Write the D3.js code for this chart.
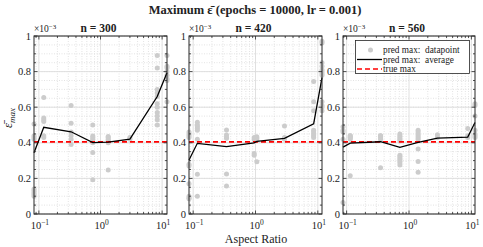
<!DOCTYPE html>
<html><head><meta charset="utf-8">
<script src="https://cdn.jsdelivr.net/npm/d3@7"></script>
<style>
html,body{margin:0;padding:0;background:#fff;}
svg text{font-family:"Liberation Serif","DejaVu Serif",serif;fill:#222;}
</style></head>
<body><svg id="c" width="483" height="247"></svg>
<script>
// ---- data (values in units of 1e-3) ----
const panelTitles = ["n = 300", "n = 420", "n = 560"];
const aspect300 = [1/12, 6/50, 10/30, 15/20, 20/15, 30/10, 50/6, 60/5];
const aspect420 = [6/70, 7/60, 12/35, 20/21, 21/20, 35/12, 60/7, 70/6];
const aspect560 = [7/80, 8/70, 14/40, 20/28, 28/20, 40/14, 70/8, 80/7];
const avg300 = [0.344, 0.487, 0.462, 0.401, 0.404, 0.421, 0.66, 0.794];
const avg420 = [0.303, 0.397, 0.378, 0.400, 0.408, 0.425, 0.507, 0.766];
const avg560 = [0.376, 0.398, 0.406, 0.374, 0.402, 0.426, 0.432, 0.514];
const pts300 = [
  [0.505, 0.44, 0.43, 0.42, 0.14, 0.13, 0.12, 0.11, 0.10],
  [0.655, 0.54, 0.53, 0.52, 0.44, 0.43],
  [0.61, 0.51, 0.46, 0.44, 0.42, 0.39],
  [0.50, 0.438, 0.43, 0.42, 0.40, 0.346, 0.193],
  [0.435, 0.43, 0.42, 0.41, 0.40, 0.247],
  [0.43, 0.42],
  [0.89, 0.82, 0.70, 0.68, 0.66, 0.62, 0.60, 0.57, 0.55, 0.53, 0.50],
  [0.89, 0.83, 0.82, 0.80, 0.78, 0.76, 0.75, 0.63]
];
const pts420 = [
  [0.46, 0.45, 0.44, 0.43, 0.28, 0.27, 0.17, 0.10, 0.09, 0.085],
  [0.515, 0.50, 0.49, 0.48, 0.47, 0.42, 0.223, 0.10],
  [0.472, 0.444, 0.43, 0.425, 0.225, 0.157],
  [0.43, 0.42, 0.34, 0.33],
  [0.434, 0.425, 0.415, 0.294],
  [0.494, 0.43, 0.42],
  [0.745, 0.63, 0.58, 0.47, 0.46, 0.45, 0.44, 0.43],
  [0.97, 0.96, 0.85, 0.83, 0.81, 0.80, 0.79, 0.78, 0.63, 0.61, 0.60, 0.58]
];
const pts560 = [
  [0.49, 0.47, 0.46, 0.42, 0.065],
  [0.44, 0.44, 0.43, 0.43, 0.42, 0.215],
  [0.44, 0.44, 0.43, 0.42, 0.26],
  [0.45, 0.44, 0.43, 0.42, 0.41, 0.33, 0.32, 0.31, 0.30, 0.29, 0.275],
  [0.47, 0.46, 0.45, 0.44, 0.43, 0.42, 0.365, 0.295, 0.235],
  [0.445, 0.43],
  [0.48, 0.44, 0.43],
  [0.62, 0.61, 0.55, 0.47, 0.45, 0.44, 0.43]
];
const trueMax = 0.405;
const yTicks = [0, 0.2, 0.4, 0.6, 0.8, 1];
const yTickLabels = ["0", "0.2", "0.4", "0.6", "0.8", "1"];
const xTickExps = ["\u22121", "0", "1"];
const legendLabels = ["pred max:  datapoint", "pred max:  average", "true max"];

const aspects = [aspect300, aspect420, aspect560];
const avgs = [avg300, avg420, avg560];
const pts = [pts300, pts420, pts560];

// ---- layout ----
const svg = d3.select("#c");
const panelX = [[34, 167], [189, 322], [343, 475]];
const yTop = 36, yBot = 214;
const gridCol = "#dcdcdc", ptCol = "#cccccc";

svg.append("text").attr("x", 255).attr("y", 14).attr("text-anchor", "middle")
  .attr("font-size", 12.5).attr("font-weight", "bold")
  .text("Maximum \u03b5\u0304 (epochs = 10000, lr = 0.001)");

const y = d3.scaleLinear().domain([0, 1]).range([yBot, yTop]);

panelX.forEach((px, i) => {
  const asp = aspects[i];
  const x = d3.scaleLog().domain(d3.extent(asp)).range(px);
  const g = svg.append("g");
  const [d0, d1] = x.domain();
  const minorX = [];
  for (let e = -2; e <= 1; e++) for (let m = 1; m <= 9; m++) {
    const v = m * Math.pow(10, e);
    if (v >= d0 && v <= d1) minorX.push(v);
  }
  const majorX = [0.1, 1, 10];
  const minorY = d3.range(0, 1.0001, 0.05);
  g.selectAll(".mgx").data(minorX.filter(v => !majorX.includes(v))).join("line")
    .attr("x1", d => x(d)).attr("x2", d => x(d)).attr("y1", yTop).attr("y2", yBot)
    .attr("stroke", gridCol).attr("stroke-width", 0.8).attr("stroke-dasharray", "1,1.5");
  g.selectAll(".mgy").data(minorY).join("line")
    .attr("x1", px[0]).attr("x2", px[1]).attr("y1", d => y(d)).attr("y2", d => y(d))
    .attr("stroke", gridCol).attr("stroke-width", 0.8).attr("stroke-dasharray", "1,1.5");
  g.selectAll(".Mgx").data(majorX).join("line")
    .attr("x1", d => x(d)).attr("x2", d => x(d)).attr("y1", yTop).attr("y2", yBot)
    .attr("stroke", gridCol).attr("stroke-width", 0.9);
  g.selectAll(".Mgy").data(yTicks).join("line")
    .attr("x1", px[0]).attr("x2", px[1]).attr("y1", d => y(d)).attr("y2", d => y(d))
    .attr("stroke", gridCol).attr("stroke-width", 0.9);

  const flat = [];
  pts[i].forEach((arr, k) => arr.forEach(v => flat.push([asp[k], v])));
  g.selectAll(".pt").data(flat).join("circle")
    .attr("cx", d => x(d[0])).attr("cy", d => y(d[1])).attr("r", 2.5)
    .attr("fill", ptCol);

  g.append("line").attr("x1", px[0]).attr("x2", px[1])
    .attr("y1", y(trueMax)).attr("y2", y(trueMax))
    .attr("stroke", "#ff0000").attr("stroke-width", 1.6).attr("stroke-dasharray", "5,3");

  const line = d3.line().x((d, k) => x(asp[k])).y(d => y(d));
  g.append("path").datum(avgs[i]).attr("d", line).attr("fill", "none")
    .attr("stroke", "#000").attr("stroke-width", 1.3);

  const tk = g.append("g").attr("stroke", "#262626").attr("stroke-width", 0.8);
  minorX.forEach(v => {
    const L = majorX.includes(v) ? 3.5 : 2;
    tk.append("line").attr("x1", x(v)).attr("x2", x(v)).attr("y1", yBot).attr("y2", yBot - L);
    tk.append("line").attr("x1", x(v)).attr("x2", x(v)).attr("y1", yTop).attr("y2", yTop + L);
  });
  minorY.forEach(v => {
    const L = yTicks.some(t => Math.abs(t - v) < 1e-6) ? 3.5 : 2;
    tk.append("line").attr("x1", px[0]).attr("x2", px[0] + L).attr("y1", y(v)).attr("y2", y(v));
    tk.append("line").attr("x1", px[1]).attr("x2", px[1] - L).attr("y1", y(v)).attr("y2", y(v));
  });
  g.append("rect").attr("x", px[0]).attr("y", yTop).attr("width", px[1] - px[0])
    .attr("height", yBot - yTop).attr("fill", "none").attr("stroke", "#262626").attr("stroke-width", 1);

  g.selectAll(".yl").data(yTicks).join("text")
    .attr("x", px[0] - 3).attr("y", d => y(d) + 3.5).attr("text-anchor", "end")
    .attr("font-size", 10.5).text((d, k) => yTickLabels[k]);
  majorX.forEach((v, k) => {
    const t = g.append("text").attr("x", x(v) + 1).attr("y", 229)
      .attr("text-anchor", "middle").attr("font-size", 10.5);
    t.append("tspan").text("10");
    t.append("tspan").attr("dy", -4).attr("font-size", 7.5).text(xTickExps[k]);
  });
  const ex = g.append("text").attr("x", px[0]).attr("y", 32).attr("font-size", 9.5);
  ex.append("tspan").text("\u00d710");
  ex.append("tspan").attr("dy", -3.5).attr("font-size", 7).text("\u22123");
  g.append("text").attr("x", (px[0] + px[1]) / 2 - 2).attr("y", 32).attr("text-anchor", "middle")
    .attr("font-size", 11.5).attr("font-weight", "bold").text(panelTitles[i]);
});

svg.append("text").attr("x", 256).attr("y", 243).attr("text-anchor", "middle")
  .attr("font-size", 12).text("Aspect Ratio");
const yl = svg.append("text").attr("transform", "translate(12,118) rotate(-90)")
  .attr("text-anchor", "middle").attr("font-size", 12.5).attr("font-style", "italic");
yl.append("tspan").text("\u03b5\u0304");
yl.append("tspan").attr("dy", 3).attr("font-size", 9).text("max");

const lg = svg.append("g");
lg.append("rect").attr("x", 355.5).attr("y", 40.5).attr("width", 114).attr("height", 33)
  .attr("fill", "#fff").attr("stroke", "#262626").attr("stroke-width", 0.8);
lg.append("circle").attr("cx", 370.5).attr("cy", 50).attr("r", 2.5).attr("fill", ptCol);
lg.append("line").attr("x1", 357).attr("x2", 382).attr("y1", 59.5).attr("y2", 59.5)
  .attr("stroke", "#000").attr("stroke-width", 1.3);
lg.append("line").attr("x1", 357).attr("x2", 382).attr("y1", 69).attr("y2", 69)
  .attr("stroke", "#ff0000").attr("stroke-width", 1.6).attr("stroke-dasharray", "5,3");
lg.selectAll(".lt").data(legendLabels).join("text")
  .attr("x", 383).attr("y", (d, k) => 53 + k * 9.5).attr("font-size", 9.3)
  .style("white-space", "pre").text(d => d);
</script></body></html>
